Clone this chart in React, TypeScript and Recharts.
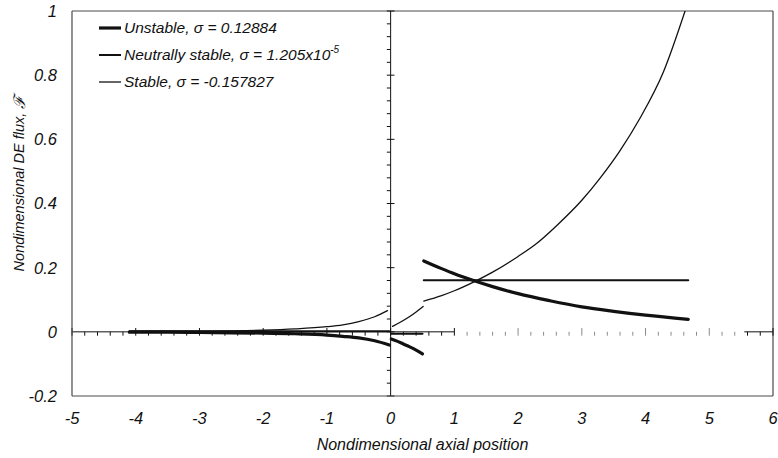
import React from "react";
import { LineChart, Line, XAxis, YAxis, ReferenceLine, Legend } from "recharts";

// ---------- tick labels ----------
const xTicks = [-5, -4, -3, -2, -1, 0, 1, 2, 3, 4, 5, 6];
const yTicks = [-0.2, 0, 0.2, 0.4, 0.6, 0.8, 1];

// ---------- Unstable, sigma = 0.12884 ----------
const unstableLeftX = [-4.1, -3.5, -3, -2.5, -2, -1.5, -1, -0.75, -0.5, -0.25, -0.02];
const unstableLeftY = [-0.001, -0.001, -0.002, -0.003, -0.004, -0.006, -0.01, -0.014, -0.019, -0.028, -0.041];
const unstableMidX = [0.01, 0.1, 0.2, 0.3, 0.4, 0.5];
const unstableMidY = [-0.022, -0.029, -0.038, -0.047, -0.057, -0.069];
const unstableRightX = [0.52, 0.8, 1.0, 1.3, 1.6, 2.0, 2.5, 3.0, 3.5, 4.0, 4.67];
const unstableRightY = [0.221, 0.197, 0.181, 0.16, 0.141, 0.119, 0.097, 0.078, 0.064, 0.052, 0.039];

// ---------- Neutrally stable, sigma = 1.205e-5 ----------
const neutralLeftX = [-4.1, -2, -0.02];
const neutralLeftY = [0.002, 0.002, 0.002];
const neutralMidX = [0.01, 0.5];
const neutralMidY = [-0.006, -0.006];
const neutralRightX = [0.52, 2.5, 4.67];
const neutralRightY = [0.161, 0.161, 0.161];

// ---------- Stable, sigma = -0.157827 ----------
const stableLeftX = [-4.1, -3, -2, -1.5, -1, -0.75, -0.5, -0.25, -0.05];
const stableLeftY = [0.001, 0.002, 0.005, 0.009, 0.016, 0.022, 0.032, 0.047, 0.066];
const stableMidX = [0.03, 0.15, 0.3, 0.4, 0.51];
const stableMidY = [0.017, 0.03, 0.048, 0.062, 0.079];
const stableRightX = [0.52, 0.8, 1.0, 1.3, 1.6, 2.0, 2.27, 2.6, 3.0, 3.29, 3.6, 3.91, 4.28, 4.62];
const stableRightY = [0.096, 0.113, 0.128, 0.155, 0.186, 0.235, 0.272, 0.33, 0.41, 0.48, 0.565, 0.665, 0.81, 1.0];

const legendItems = [
  { label: "Unstable, ", sigma: "0.12884", sup: "", width: 3.2 },
  { label: "Neutrally stable, ", sigma: "1.205x10", sup: "-5", width: 2 },
  { label: "Stable, ", sigma: "-0.157827", sup: "", width: 1.3 },
];

const zip = (xs: number[], ys: number[]) => xs.map((x, i) => ({ x, y: ys[i] }));

const FONT = "'Liberation Sans', Arial, sans-serif";
const INK = "#111";
const FRAME = "#4a4a4a";

// decorative tick marks on the interior axes (every 0.2 on x, every 0.04 on y)
const hTicks: number[] = [];
for (let i = 0; i <= 55; i++) hTicks.push(Math.round((-5 + i * 0.2) * 100) / 100);
const vTicks: number[] = [];
for (let i = 0; i <= 30; i++) vTicks.push(Math.round((-0.2 + i * 0.04) * 100) / 100);

const isInt = (v: number) => Math.abs(v - Math.round(v)) < 1e-6;
const isFifth = (v: number) => Math.abs(v * 5 - Math.round(v * 5)) < 1e-6;

const LegendBox = () => (
  <div style={{ fontFamily: FONT, fontStyle: "italic", fontSize: 15.5, color: INK, lineHeight: "27px" }}>
    {legendItems.map((it) => (
      <div key={it.label} style={{ display: "flex", alignItems: "center", whiteSpace: "nowrap" }}>
        <svg width={24} height={10} style={{ marginRight: 2 }}>
          <line x1={1} y1={5} x2={23} y2={5} stroke={INK} strokeWidth={it.width} />
        </svg>
        <span>
          {it.label}
          σ = {it.sigma}
          {it.sup ? <sup style={{ fontSize: 10, verticalAlign: "7px", lineHeight: 0 }}>{it.sup}</sup> : null}
        </span>
      </div>
    ))}
  </div>
);

const YTitle = (props: any) => {
  const vb = props.viewBox || { x: 0, y: 0, width: 72, height: 385 };
  const cx = vb.x + 19;
  const cy = vb.y + vb.height / 2 - 20;
  return (
    <text
      x={cx}
      y={cy}
      transform={`rotate(-90 ${cx} ${cy})`}
      textAnchor="middle"
      dominantBaseline="central"
      fontFamily={FONT}
      fontStyle="italic"
      fontSize={14.5}
      fill={INK}
    >
      Nondimensional DE flux, <tspan fontSize={16}>ℱ</tspan>
    </text>
  );
};

export default function App() {
  const seg = (key: string, data: { x: number; y: number }[], w: number) => (
    <Line
      key={key}
      data={data}
      dataKey="y"
      type="monotone"
      stroke={INK}
      strokeWidth={w}
      dot={false}
      activeDot={false}
      isAnimationActive={false}
      legendType="none"
      strokeLinecap="round"
    />
  );
  return (
    <div style={{ position: "absolute", left: 0, top: 0, width: 778, height: 458, background: "#fff" }}>
      <LineChart width={778} height={458} margin={{ top: 11, right: 5, bottom: 0, left: 0 }}>
        <XAxis
          dataKey="x"
          type="number"
          domain={[-5, 6]}
          ticks={xTicks}
          allowDataOverflow
          height={62}
          tickSize={0}
          tickMargin={16}
          axisLine={{ stroke: FRAME, strokeWidth: 1.2 }}
          tickLine={false}
          tick={{ fill: INK, fontSize: 16.5, fontStyle: "italic", fontFamily: FONT }}
          label={{
            value: "Nondimensional axial position",
            position: "insideBottom",
            offset: 8,
            style: { fill: INK, fontSize: 16, fontStyle: "italic", fontFamily: FONT },
          }}
        />
        <YAxis
          type="number"
          domain={[-0.2, 1]}
          ticks={yTicks}
          allowDataOverflow
          width={72}
          tickSize={0}
          tickMargin={15}
          axisLine={{ stroke: FRAME, strokeWidth: 1.2 }}
          tickLine={false}
          tick={{ fill: INK, fontSize: 16.5, fontStyle: "italic", fontFamily: FONT }}
          label={{ content: YTitle }}
        />
        {/* frame top and right */}
        <ReferenceLine y={1} stroke={FRAME} strokeWidth={1.2} ifOverflow="visible" />
        <ReferenceLine x={6} stroke={FRAME} strokeWidth={1.2} ifOverflow="visible" />
        {/* interior axes */}
        <ReferenceLine x={0} stroke={INK} strokeWidth={1} ifOverflow="visible" />
        <ReferenceLine segment={[{ x: -5, y: 0 }, { x: 1, y: 0 }]} stroke={INK} strokeWidth={1} ifOverflow="visible" />
        <ReferenceLine segment={[{ x: 5.55, y: 0 }, { x: 6, y: 0 }]} stroke={INK} strokeWidth={1} ifOverflow="visible" />
        {hTicks.map((v) => {
          const major = isInt(v);
          const faded = v > 1 && v < 5.55;
          return (
            <ReferenceLine
              key={"h" + v}
              segment={[{ x: v, y: major ? 0.012 : 0 }, { x: v, y: -0.012 }]}
              stroke={faded ? "#8a8a8a" : INK}
              strokeWidth={1}
              ifOverflow="visible"
            />
          );
        })}
        {vTicks.map((v) => {
          const major = isFifth(v);
          return (
            <ReferenceLine
              key={"v" + v}
              segment={[{ x: -0.06, y: v }, { x: major ? 0.06 : 0, y: v }]}
              stroke={INK}
              strokeWidth={1}
              ifOverflow="visible"
            />
          );
        })}
        {seg("uL", zip(unstableLeftX, unstableLeftY), 3.2)}
        {seg("uM", zip(unstableMidX, unstableMidY), 3.2)}
        {seg("uR", zip(unstableRightX, unstableRightY), 3.2)}
        {seg("nL", zip(neutralLeftX, neutralLeftY), 2)}
        {seg("nM", zip(neutralMidX, neutralMidY), 2)}
        {seg("nR", zip(neutralRightX, neutralRightY), 2)}
        {seg("sL", zip(stableLeftX, stableLeftY), 1.3)}
        {seg("sM", zip(stableMidX, stableMidY), 1.3)}
        {seg("sR", zip(stableRightX, stableRightY), 1.3)}
        <Legend
          layout="vertical"
          align="center"
          verticalAlign="middle"
          content={() => <LegendBox />}
          wrapperStyle={{ left: 98, top: 14, width: 300, height: 90 }}
        />
      </LineChart>
    </div>
  );
}
